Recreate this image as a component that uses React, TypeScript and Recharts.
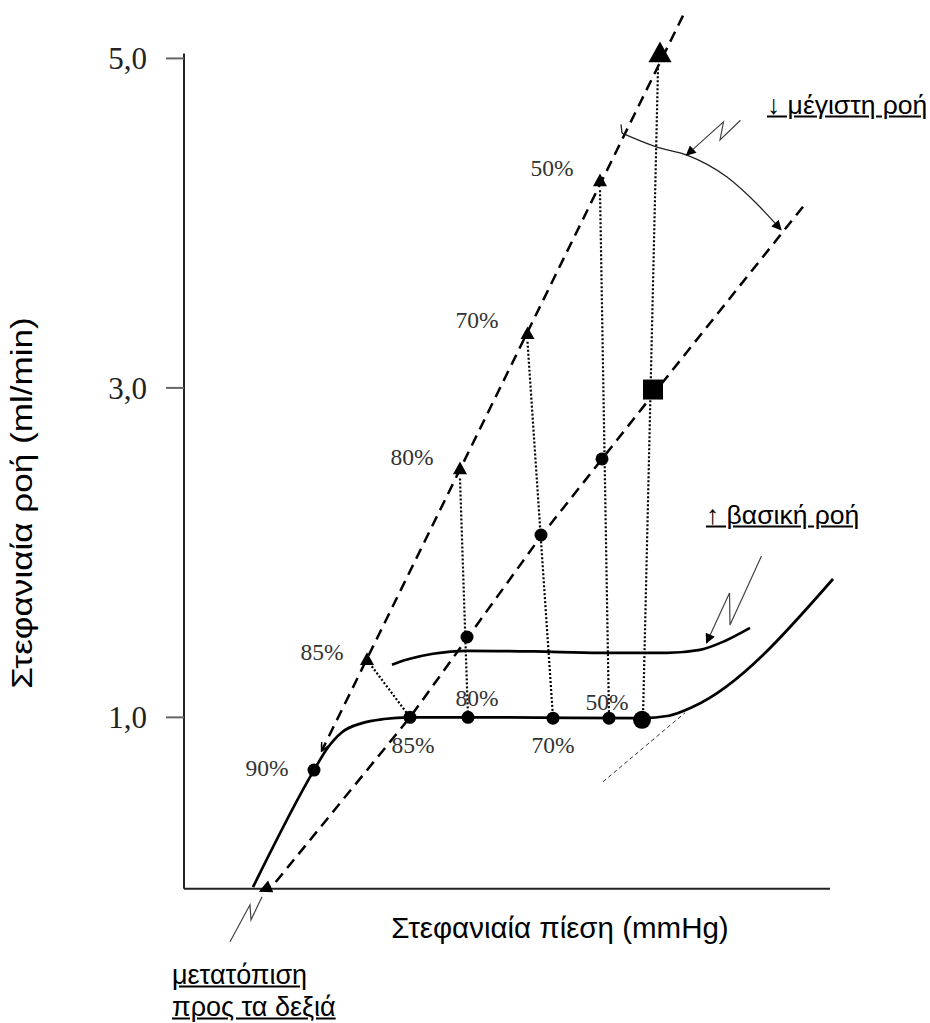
import { ComposedChart, Line, Scatter, XAxis, YAxis, ReferenceLine, ReferenceDot } from 'recharts';

type Pt = { x: number; y: number };

// y axis ticks (ml/min)
const yTicks = [1, 3, 5];
const xAxisEnd = 129.2;
const yAxisTop = 5.03;
const axisBase = -0.04;

// maximal-flow line before (steep) and after (shifted) the change
const maxFlowBefore: Pt[] = [{ x: 99.8, y: 5.26 }, { x: 27.6, y: 0.8 }];
const maxFlowAfter: Pt[] = [
    { x: 123.8, y: 4.1 }, { x: 93.8, y: 2.96 }, { x: 71.4, y: 2.1 },
    { x: 45.2, y: 1.0 }, { x: 17.8, y: -0.02 }, { x: 15.2, y: -0.055 },
];

// autoregulation curves
const baseCurve: Pt[] = [
    { x: 13.8, y: -0.03 }, { x: 26, y: 0.68 }, { x: 28.6, y: 0.81 }, { x: 31.6, y: 0.91 },
    { x: 35.6, y: 0.965 }, { x: 40, y: 0.99 }, { x: 45, y: 1.0 }, { x: 63, y: 1.0 },
    { x: 91.6, y: 0.995 }, { x: 97, y: 1.01 }, { x: 101.8, y: 1.064 }, { x: 129.8, y: 1.84 },
];
const raisedCurve: Pt[] = [
    { x: 41.6, y: 1.32 }, { x: 43.2, y: 1.338 }, { x: 45.2, y: 1.356 }, { x: 49.8, y: 1.386 },
    { x: 56.6, y: 1.404 }, { x: 70, y: 1.4 }, { x: 83.2, y: 1.392 }, { x: 96.6, y: 1.392 },
    { x: 103.2, y: 1.41 }, { x: 108.2, y: 1.464 }, { x: 113.2, y: 1.543 },
];

// dotted drops from stenosis triangles to the plateau
const drop85: Pt[] = [{ x: 36.6, y: 1.349 }, { x: 45.2, y: 1.0 }];
const drop80: Pt[] = [{ x: 55.2, y: 2.45 }, { x: 56.8, y: 1.0 }];
const drop70: Pt[] = [{ x: 68.7, y: 3.28 }, { x: 73.8, y: 1.0 }];
const drop50: Pt[] = [{ x: 83.2, y: 4.2 }, { x: 85, y: 1.0 }];
const dropMax: Pt[] = [{ x: 94.8, y: 4.94 }, { x: 91.8, y: 1.0 }];

// markers
const stenosisTriangles: Pt[] = [
    { x: 36.6, y: 1.349 }, { x: 55.2, y: 2.507 }, { x: 68.7, y: 3.327 }, { x: 83.2, y: 4.255 },
];
const maxTriangle: Pt[] = [{ x: 95.2, y: 5.027 }];
const plateauDots: Pt[] = [
    { x: 45.2, y: 1.0 }, { x: 56.8, y: 1.0 }, { x: 73.8, y: 0.995 }, { x: 85, y: 0.995 },
];
const plateauBigDot: Pt[] = [{ x: 91.6, y: 0.985 }];
const shiftedDots: Pt[] = [
    { x: 26, y: 0.68 }, { x: 56.6, y: 1.488 }, { x: 71.4, y: 2.107 }, { x: 83.6, y: 2.569 },
];
const squarePoint: Pt[] = [{ x: 93.8, y: 2.99 }];

// annotation strokes
const arcCorner: Pt[] = [{ x: 87.4, y: 4.6 }, { x: 87.6, y: 4.546 }];
const arcMaxFlow: Pt[] = [
    { x: 87.6, y: 4.546 }, { x: 94.6, y: 4.461 }, { x: 100.6, y: 4.413 },
    { x: 108.6, y: 4.28 }, { x: 115.2, y: 4.098 }, { x: 119.4, y: 3.96 },
];
const zigzagTop: Pt[] = [{ x: 111.3, y: 4.625 }, { x: 107.2, y: 4.505 }, { x: 107.9, y: 4.615 }, { x: 100.5, y: 4.413 }];
const zigzagMid: Pt[] = [{ x: 115.5, y: 1.98 }, { x: 109.2, y: 1.561 }, { x: 109.1, y: 1.755 }, { x: 104.5, y: 1.452 }];
const zigzagLow: Pt[] = [{ x: 9.2, y: -0.362 }, { x: 13.2, y: -0.138 }, { x: 13.4, y: -0.229 }, { x: 15.6, y: -0.089 }];
const tangent: Pt[] = [{ x: 83.8, y: 0.609 }, { x: 100.2, y: 1.028 }];

// percent labels
const pctLabels = [
    { x: 16.6, y: 0.694, text: '90%' },
    { x: 27.6, y: 1.398, text: '85%' },
    { x: 45.8, y: 0.834, text: '85%' },
    { x: 58.6, y: 1.118, text: '80%' },
    { x: 73.8, y: 0.834, text: '70%' },
    { x: 84.6, y: 1.094, text: '50%' },
    { x: 45.6, y: 2.58, text: '80%' },
    { x: 58.6, y: 3.413, text: '70%' },
    { x: 73.6, y: 4.334, text: '50%' },
];

const SANS = '"Liberation Sans", Arial, sans-serif';
const SERIF = '"Liberation Serif", "Times New Roman", serif';

const triangle = (w: number) => (p: any) => {
    const { cx, cy } = p;
    const h = w * 0.9;
    return <polygon points={`${cx},${cy - h * 0.6} ${cx - w / 2},${cy + h * 0.4} ${cx + w / 2},${cy + h * 0.4}`} fill="#000" />;
};
const dot = (r: number) => (p: any) => <circle cx={p.cx} cy={p.cy} r={r} fill="#000" />;
const square = (s: number) => (p: any) => <rect x={p.cx - s / 2} y={p.cy - s / 2} width={s} height={s} fill="#000" />;

const path = (key: string, data: Pt[], stroke: string, width: number, dash?: string, curve: any = 'linear', marker?: string) => (
    <Line
        key={key}
        data={data}
        dataKey="y"
        type={curve}
        stroke={stroke}
        strokeWidth={width}
        strokeDasharray={dash}
        dot={false}
        activeDot={false}
        isAnimationActive={false}
        markerEnd={marker ? `url(#${marker})` : undefined}
    />
);

const text = (t: string, style: React.CSSProperties) => (
    <div style={{ position: 'absolute', whiteSpace: 'nowrap', fontFamily: SANS, color: '#000', ...style }}>{t}</div>
);

export default function App() {
    return (
        <div style={{ position: 'absolute', left: 0, top: 0, width: 930, height: 1023, background: '#fff' }}>
            <svg width={0} height={0} style={{ position: 'absolute' }}>
                <defs>
                    <marker id="ahBig" viewBox="0 0 10 10" refX="9" refY="5" markerWidth="16" markerHeight="13" markerUnits="userSpaceOnUse" orient="auto">
                        <path d="M0,0 L10,5 L0,10 z" fill="#000" />
                    </marker>
                    <marker id="ahSmall" viewBox="0 0 10 10" refX="9" refY="5" markerWidth="13" markerHeight="10" markerUnits="userSpaceOnUse" orient="auto">
                        <path d="M0,0 L10,5 L0,10 z" fill="#000" />
                    </marker>
                    <marker id="ahThin" viewBox="0 0 10 10" refX="9" refY="5" markerWidth="10" markerHeight="8" markerUnits="userSpaceOnUse" orient="auto">
                        <path d="M0,0 L10,5 L0,10" fill="none" stroke="#000" strokeWidth="2" />
                    </marker>
                </defs>
            </svg>
            <ComposedChart width={930} height={1023} margin={{ top: 9, right: 46, bottom: 75, left: 0 }}>
                <XAxis type="number" dataKey="x" domain={[0, 140]} hide allowDataOverflow />
                <YAxis
                    type="number"
                    dataKey="y"
                    domain={[-0.4, 5.3]}
                    allowDataOverflow
                    width={184}
                    ticks={yTicks}
                    axisLine={false}
                    tickSize={18}
                    tickMargin={19}
                    tickLine={{ stroke: '#666', strokeWidth: 2 }}
                    tick={{ fontSize: 31, fontFamily: SERIF, fill: '#222' }}
                    tickFormatter={(v: number) => v.toFixed(1).replace('.', ',')}
                />
                <ReferenceLine segment={[{ x: 0, y: axisBase }, { x: 0, y: yAxisTop }]} stroke="#222" strokeWidth={2} ifOverflow="visible" />
                <ReferenceLine segment={[{ x: 0, y: axisBase }, { x: xAxisEnd, y: axisBase }]} stroke="#222" strokeWidth={2} ifOverflow="visible" />

                {path('tangent', tangent, '#333', 1, '4 3')}
                {path('drop85', drop85, '#000', 2.2, '2 2')}
                {path('drop80', drop80, '#000', 2.2, '2 2')}
                {path('drop70', drop70, '#000', 2.2, '2 2')}
                {path('drop50', drop50, '#000', 2.2, '2 2')}
                {path('dropMax', dropMax, '#000', 2.2, '2 2')}
                {path('maxBefore', maxFlowBefore, '#000', 2.5, '11 7', 'linear', 'ahThin')}
                {path('maxAfter', maxFlowAfter, '#000', 2.5, '11 7', 'linear', 'ahBig')}
                {path('base', baseCurve, '#000', 2.7, undefined, 'monotone')}
                {path('raised', raisedCurve, '#000', 2.7, undefined, 'monotone')}
                {path('arcCorner', arcCorner, '#222', 1.3)}
                {path('arc', arcMaxFlow, '#222', 1.3, undefined, 'monotone', 'ahSmall')}
                {path('zzTop', zigzagTop, '#444', 1.2, undefined, 'linear', 'ahSmall')}
                {path('zzMid', zigzagMid, '#444', 1.2, undefined, 'linear', 'ahSmall')}
                {path('zzLow', zigzagLow, '#444', 1.2)}

                <Scatter data={stenosisTriangles} shape={triangle(14)} isAnimationActive={false} />
                <Scatter data={maxTriangle} shape={triangle(23)} isAnimationActive={false} />
                <Scatter data={plateauDots} shape={dot(6.5)} isAnimationActive={false} />
                <Scatter data={plateauBigDot} shape={dot(9)} isAnimationActive={false} />
                <Scatter data={shiftedDots} shape={dot(6.5)} isAnimationActive={false} />
                <Scatter data={squarePoint} shape={square(20)} isAnimationActive={false} />

                {pctLabels.map((l, i) => (
                    <ReferenceDot
                        key={`pct-${i}`}
                        x={l.x}
                        y={l.y}
                        r={0}
                        fill="none"
                        stroke="none"
                        ifOverflow="visible"
                        label={{ value: l.text, position: 'center', fill: '#333', fontSize: 23.5, fontFamily: SERIF }}
                    />
                ))}
            </ComposedChart>

            {text('Στεφανιαία πίεση (mmHg)', { left: 560, top: 928, fontSize: 29.5, transform: 'translate(-50%, -50%)' })}
            {text('Στεφανιαία ροή (ml/min)', { left: 22, top: 503, fontSize: 29, transform: 'translate(-50%, -50%) rotate(-90deg) scaleX(1.21)' })}
            {text('↓ μέγιστη ροή', { left: 767, top: 105, fontSize: 26.5, textDecoration: 'underline', transform: 'translateY(-50%)' })}
            {text('↑ βασική ροή', { left: 706, top: 515, fontSize: 26.5, textDecoration: 'underline', transform: 'translateY(-50%)' })}
            {text('μετατόπιση', { left: 172, top: 975, fontSize: 27, textDecoration: 'underline', transform: 'translateY(-50%)' })}
            {text('προς τα δεξιά', { left: 172, top: 1007, fontSize: 27, textDecoration: 'underline', transform: 'translateY(-50%)' })}
        </div>
    );
}
